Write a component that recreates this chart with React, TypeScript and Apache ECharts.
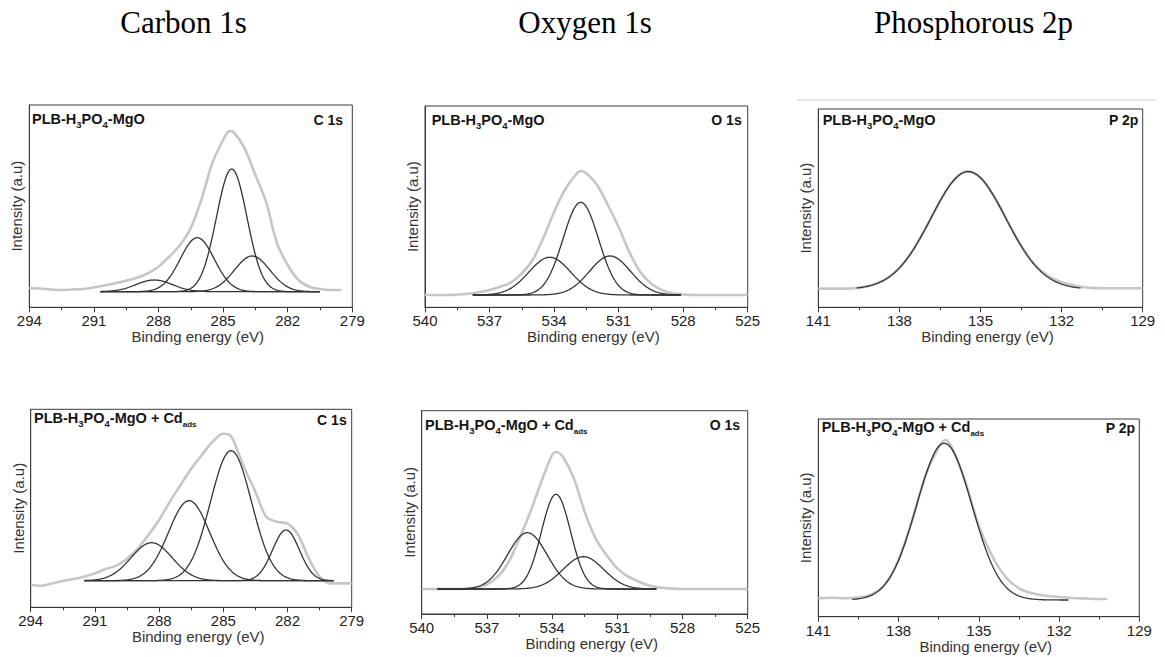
import React, { useEffect, useRef } from "react";
import * as echarts from "echarts";

// ---------- text ----------
const sectionTitles = ["Carbon 1s", "Oxygen 1s", "Phosphorous 2p"];
const coreLevelLabels = ["C 1s", "O 1s", "P 2p", "C 1s", "O 1s", "P 2p"];
const sampleLabelTop = "{b|PLB-H}{s|3}{b|PO}{s|4}{b|-MgO}";
const sampleLabelBottom = "{b|PLB-H}{s|3}{b|PO}{s|4}{b|-MgO + Cd}{a|ads}";
const xAxisName = "Binding energy (eV)";
const yAxisName = "Intensity (a.u)";

// ---------- axis ranges (eV) ----------
const c1sRange = [279, 294];
const o1sRange = [525, 540];
const p2pRange = [129, 141];
const tickStep = 3;

// ---------- measured spectra (grey) ----------
const c1sEnergyA = [294, 293.5, 293, 292.5, 292, 291.5, 291, 290.5, 290, 289.5, 289, 288.5, 288, 287.5, 287, 286.5, 286, 285.5, 285, 284.7, 284.5, 284, 283.5, 283, 282.5, 282, 281.5, 281, 280.5, 280, 279.5];
const c1sCountsA = [2, 1.5, 0.5, 0, 0.5, 1, 2.5, 4.5, 6.7, 9.3, 12.3, 16.7, 23.3, 33.3, 45, 62, 91, 127, 150, 159, 157.7, 141.7, 115, 88, 47, 25, 10, 3.3, 1, 0, 0];

const o1sEnergyA = [540, 539.5, 539, 538.5, 538, 537.5, 537, 536.5, 536, 535.5, 535, 534.5, 534, 533.5, 533, 532.75, 532.5, 532, 531.5, 531, 530.5, 530, 529.5, 529, 528.5, 528, 527.5, 527, 526.5, 526, 525.5, 525];
const o1sCountsA = [0, 0, 0, 0.5, 1.3, 2.7, 5, 8.3, 12.7, 21.7, 35, 57, 83, 105, 120, 124, 121.7, 110, 90, 68, 43, 23.3, 11.7, 5, 1.7, 0.5, 0, 0, 0, 0, 0, 0];

const p2pEnergyA = [141, 140.5, 140, 139.5, 139, 138.5, 138, 137.5, 137, 136.5, 136, 135.5, 135, 134.5, 134, 133.5, 133, 132.5, 132, 131.5, 131, 130.5, 130, 129.5, 129];
const p2pCountsA = [0.7, 0.7, 0.7, 1.6, 4.3, 10.2, 21.3, 39, 62.6, 88, 108.8, 118, 111.6, 93, 68, 44, 25, 13.5, 7, 3.5, 1.5, 1, 1, 1, 1];

const c1sEnergyB = [294, 293.5, 293, 292.5, 292, 291.5, 291, 290.5, 290, 289.5, 289, 288.5, 288, 287.5, 287, 286.5, 286, 285.5, 285, 284.7, 284.5, 284, 283.5, 283, 282.5, 282, 281.5, 281, 280.5, 280, 279.5, 279];
const c1sCountsB = [-4.3, -5, -2.7, -0.3, 1.7, 4, 7.3, 11.7, 15, 22, 32, 45.7, 60.7, 79, 95.7, 112, 125.7, 139, 147, 145.7, 139, 112, 89, 64, 59, 57, 45.7, 22, 4, -2.7, -2.7, -2.7];

const o1sEnergyB = [540, 539.5, 539, 538.5, 538, 537.5, 537, 536.5, 536, 535.5, 535, 534.5, 534, 533.8, 533.5, 533, 532.5, 532, 531.5, 531, 530.5, 530, 529.5, 529, 528.5, 528, 527, 526, 525];
const o1sCountsB = [0, 0, 0, 0, 0.3, 1.3, 4.7, 12.3, 27, 50.7, 77, 107, 134, 137, 132, 110.7, 77, 50.7, 34, 20.7, 12.3, 7.3, 3.3, 1.3, 0.5, 0, 0, 0, 0];

const p2pEnergyB = [141, 140.5, 140, 139.5, 139, 138.5, 138, 137.5, 137, 136.5, 136.25, 136, 135.5, 135, 134.5, 134, 133.5, 133, 132.5, 132, 131.5, 131, 130.5, 130.2];
const p2pCountsB = [1.7, 2.3, 1.7, 2.5, 5.5, 16, 40, 79, 124, 153, 160, 152, 118, 74, 44, 23, 11.7, 6.7, 4.3, 3, 2, 1.5, 1, 1];

// ---------- fitted components (centre eV, height, FWHM eV) ----------
const c1sCentersA = [284.6, 286.2, 283.65, 288.2];
const c1sHeightsA = [122.7, 54, 35.7, 11.7];
const c1sFwhmA = [1.67, 1.86, 1.94, 2.0];
const c1sFitSpanA = [280.5, 290.7];
const c1sFitBaseA = -1.7;

const o1sCentersA = [532.76, 534.2, 531.4];
const o1sHeightsA = [92.7, 37.7, 39];
const o1sFwhmA = [1.94, 2.3, 2.25];
const o1sFitSpanA = [528.1, 537.8];
const o1sFitBaseA = 0;

const p2pCentersA = [135.45];
const p2pHeightsA = [117.7];
const p2pFwhmA = [3.25];
const p2pFitSpanA = [131.3, 139.6];
const p2pFitBaseA = 0;

const c1sCentersB = [288.35, 286.6, 284.64, 282.07];
const c1sHeightsB = [38, 80, 130, 50.7];
const c1sFwhmB = [2.26, 2.26, 2.26, 1.48];
const c1sFitSpanB = [279.85, 291.5];
const c1sFitBaseB = 0;

const o1sCentersB = [533.82, 535.14, 532.56];
const o1sHeightsB = [94.7, 56.3, 32.3];
const o1sFwhmB = [1.58, 2.15, 2.2];
const o1sFitSpanB = [529.2, 539.3];
const o1sFitBaseB = 0;

const p2pCentersB = [136.29];
const p2pHeightsB = [156.7];
const p2pFwhmB = [2.43];
const p2pFitSpanB = [131.65, 139.75];
const p2pFitBaseB = 0;

// intensity window of each panel (arbitrary units)
const yWindows = [
  [-17.3, 185],
  [-12.3, 189],
  [-18, 180.3],
  [-26.6, 171.4],
  [-25, 178.3],
  [-16.7, 181],
];

// ---------- layout ----------
const grids = [
  { left: 29.3, top: 105, width: 323, height: 202.3 },
  { left: 425, top: 106, width: 322.7, height: 201.3 },
  { left: 818.3, top: 109, width: 324.4, height: 198.3 },
  { left: 30.7, top: 409.3, width: 321, height: 198 },
  { left: 421.7, top: 410.7, width: 326, height: 203.3 },
  { left: 818.3, top: 419, width: 321, height: 197.7 },
];
const sampleLabelPos = [
  [32, 119],
  [431.7, 120],
  [822.7, 120],
  [34, 418],
  [425, 425],
  [821.7, 427],
];
const coreLabelPos = [
  [343, 120],
  [741.7, 120],
  [1138.3, 120],
  [346.7, 420],
  [740, 425],
  [1135, 428.3],
];
const titleCenters = [183.5, 585, 973.5];

const SANS = '"Liberation Sans", Arial, Helvetica, sans-serif';
const SERIF = '"Liberation Serif", "Times New Roman", serif';

type Panel = {
  range: number[];
  energy: number[];
  counts: number[];
  centers: number[];
  heights: number[];
  fwhm: number[];
  span: number[];
  base: number;
};

const panels: Panel[] = [
  { range: c1sRange, energy: c1sEnergyA, counts: c1sCountsA, centers: c1sCentersA, heights: c1sHeightsA, fwhm: c1sFwhmA, span: c1sFitSpanA, base: c1sFitBaseA },
  { range: o1sRange, energy: o1sEnergyA, counts: o1sCountsA, centers: o1sCentersA, heights: o1sHeightsA, fwhm: o1sFwhmA, span: o1sFitSpanA, base: o1sFitBaseA },
  { range: p2pRange, energy: p2pEnergyA, counts: p2pCountsA, centers: p2pCentersA, heights: p2pHeightsA, fwhm: p2pFwhmA, span: p2pFitSpanA, base: p2pFitBaseA },
  { range: c1sRange, energy: c1sEnergyB, counts: c1sCountsB, centers: c1sCentersB, heights: c1sHeightsB, fwhm: c1sFwhmB, span: c1sFitSpanB, base: c1sFitBaseB },
  { range: o1sRange, energy: o1sEnergyB, counts: o1sCountsB, centers: o1sCentersB, heights: o1sHeightsB, fwhm: o1sFwhmB, span: o1sFitSpanB, base: o1sFitBaseB },
  { range: p2pRange, energy: p2pEnergyB, counts: p2pCountsB, centers: p2pCentersB, heights: p2pHeightsB, fwhm: p2pFwhmB, span: p2pFitSpanB, base: p2pFitBaseB },
];

// Gaussian line shape of a fitted component, evaluated over its fit span
function componentCurve(c: number, h: number, w: number, span: number[], base: number) {
  const pts: number[][] = [];
  const k = (4 * Math.LN2) / (w * w);
  for (let x = span[0]; x <= span[1] + 1e-9; x += 0.04) {
    pts.push([x, base + h * Math.exp(-k * (x - c) * (x - c))]);
  }
  return pts;
}

function buildOption() {
  const grid: any[] = [];
  const xAxis: any[] = [];
  const yAxis: any[] = [];
  const series: any[] = [];
  const graphic: any[] = [];

  panels.forEach((p, i) => {
    grid.push({
      ...grids[i],
      show: true,
      borderColor: "#3a3a3a",
      borderWidth: 1,
      backgroundColor: "transparent",
      containLabel: false,
    });
    xAxis.push({
      gridIndex: i,
      type: "value",
      min: p.range[0],
      max: p.range[1],
      interval: tickStep,
      inverse: true,
      axisLine: { show: true, onZero: false, lineStyle: { color: "#3a3a3a", width: 1 } },
      axisTick: { show: true, inside: false, length: 5, lineStyle: { color: "#3a3a3a" } },
      minorTick: { show: true, splitNumber: 2, length: 3, lineStyle: { color: "#3a3a3a" } },
      splitLine: { show: false },
      minorSplitLine: { show: false },
      axisLabel: { fontFamily: SANS, fontSize: 15, color: "#1e1e1e", margin: 6, showMinLabel: true, showMaxLabel: true },
      name: xAxisName,
      nameLocation: "middle",
      nameGap: 15,
      nameTextStyle: { fontFamily: SANS, fontSize: 15, color: "#333", padding: [0, 0, 0, 14] },
    });
    yAxis.push({
      gridIndex: i,
      type: "value",
      min: yWindows[i][0],
      max: yWindows[i][1],
      axisLine: { show: true, onZero: false, lineStyle: { color: "#3a3a3a", width: 1 } },
      axisTick: { show: false },
      axisLabel: { show: false },
      splitLine: { show: false },
      name: yAxisName,
      nameLocation: "middle",
      nameGap: 5,
      nameTextStyle: { fontFamily: SANS, fontSize: 15, color: "#333" },
    });

    series.push({
      type: "line",
      xAxisIndex: i,
      yAxisIndex: i,
      data: p.energy.map((e, j) => [e, p.counts[j]]),
      smooth: 0.3,
      symbol: "none",
      lineStyle: { color: "#c6c6c6", width: 2.6 },
      z: 2,
    });
    p.centers.forEach((c, j) => {
      series.push({
        type: "line",
        xAxisIndex: i,
        yAxisIndex: i,
        data: componentCurve(c, p.heights[j], p.fwhm[j], p.span, p.base),
        symbol: "none",
        lineStyle: { color: "#333333", width: 1.3 },
        z: 3,
      });
    });

    graphic.push({
      type: "text",
      x: sampleLabelPos[i][0],
      y: sampleLabelPos[i][1],
      style: {
        text: i < 3 ? sampleLabelTop : sampleLabelBottom,
        align: "left",
        verticalAlign: "middle",
        rich: {
          b: { fontFamily: SANS, fontSize: 14.5, fontWeight: "bold", fill: "#151515", lineHeight: 20 },
          s: { fontFamily: SANS, fontSize: 9.5, fontWeight: "bold", fill: "#151515", lineHeight: 8, verticalAlign: "bottom" },
          a: { fontFamily: SANS, fontSize: 8, fontWeight: "bold", fill: "#151515", lineHeight: 7, verticalAlign: "bottom" },
        },
      },
      z: 10,
    });
    graphic.push({
      type: "text",
      x: coreLabelPos[i][0],
      y: coreLabelPos[i][1],
      style: {
        text: coreLevelLabels[i],
        align: "right",
        verticalAlign: "middle",
        fontFamily: SANS,
        fontSize: 14,
        fontWeight: "bold",
        fill: "#151515",
      },
      z: 10,
    });
  });

  sectionTitles.forEach((t, i) => {
    graphic.push({
      type: "text",
      x: titleCenters[i],
      y: 22,
      style: {
        text: t,
        align: "center",
        verticalAlign: "middle",
        fontFamily: SERIF,
        fontSize: 31,
        fill: "#000",
      },
    });
  });

  graphic.push({
    type: "line",
    shape: { x1: 797, y1: 100, x2: 1157, y2: 100 },
    style: { stroke: "#cfcfcf", lineWidth: 1 },
  });

  return {
    animation: false,
    backgroundColor: "#ffffff",
    grid,
    xAxis,
    yAxis,
    series,
    graphic,
  };
}

export default function App() {
  const ref = useRef<HTMLDivElement>(null);
  useEffect(() => {
    if (!ref.current) return;
    const chart = echarts.init(ref.current, undefined, { renderer: "svg" });
    chart.setOption(buildOption() as any);
    return () => chart.dispose();
  }, []);
  return (
    <div
      ref={ref}
      style={{ position: "absolute", left: 0, top: 0, width: 1165, height: 657, background: "#fff" }}
    />
  );
}
